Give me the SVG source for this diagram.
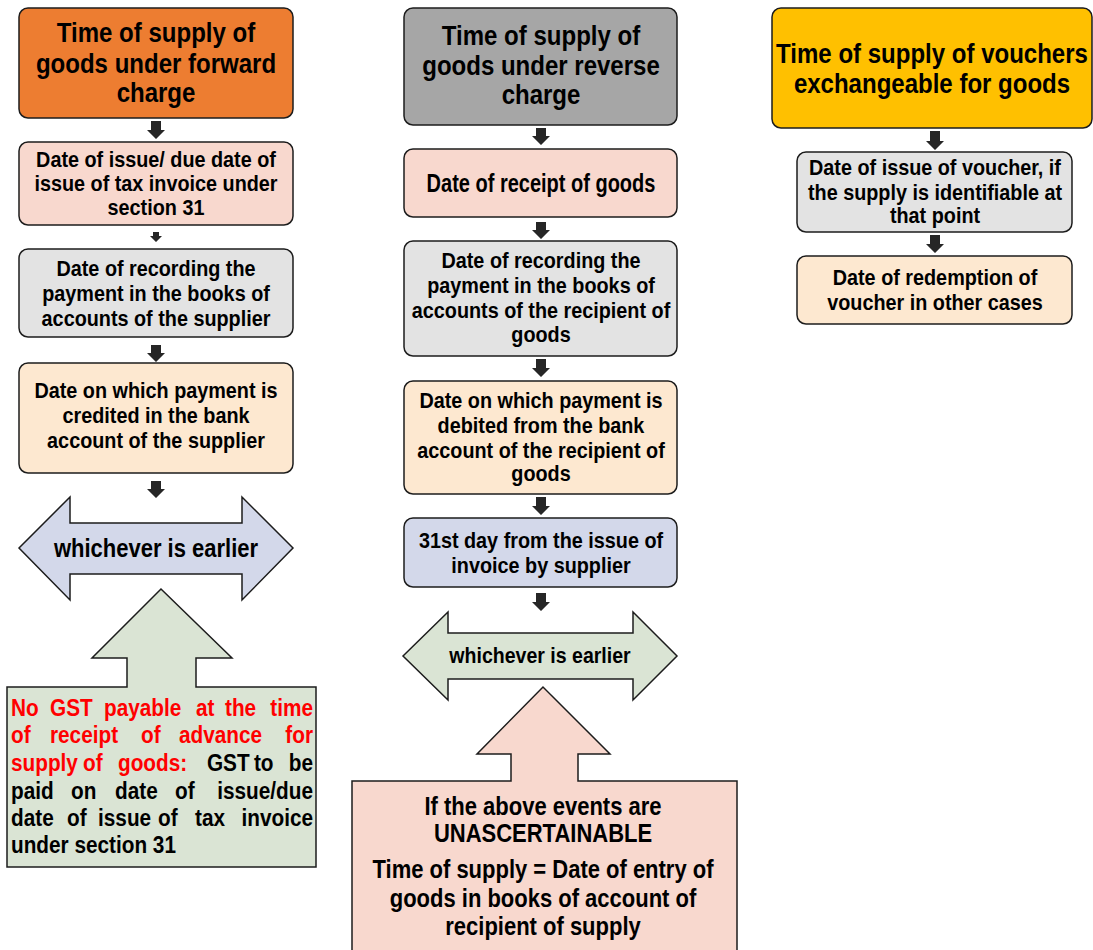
<svg xmlns="http://www.w3.org/2000/svg" width="1093" height="950" viewBox="0 0 1093 950">
<style>
text{font-family:"Liberation Sans",Arial,sans-serif;font-weight:bold;fill:#000;}
.h{font-size:27.3px;text-anchor:middle;}
.b{font-size:22.5px;text-anchor:middle;}
.w{font-size:25px;text-anchor:middle;}
.j{font-size:23.6px;}
.e{text-anchor:end;}
.r{fill:#FF0000;}
.box{stroke:#1c1c1c;stroke-width:1.5;}
.arr{fill:#262626;}
.orange{fill:#ED7D31;}
.greyh{fill:#A6A6A6;}
.yellow{fill:#FFC000;}
.pink{fill:#F8D8CE;}
.grey{fill:#E3E3E3;}
.peach{fill:#FDE8D0;}
.blue{fill:#D3D8EA;}
.green{fill:#DAE4D4;}
</style>
<rect width="1093" height="950" fill="#FFFFFF"/>

<g id="connectors">
  <polygon class="arr" points="151,121 161,121 161,130 165,130 156,139 147,130 151,130"/>
  <polygon class="arr" points="153,232 159,232 159,236 162,236 156,242 150,236 153,236"/>
  <polygon class="arr" points="151,345 161,345 161,353 165,353 156,362 147,353 151,353"/>
  <polygon class="arr" points="151,481 161,481 161,489 165,489 156,498 147,489 151,489"/>

  <polygon class="arr" points="536,128 546,128 546,136 550,136 541,145 532,136 536,136"/>
  <polygon class="arr" points="536,222 546,222 546,230 550,230 541,239 532,230 536,230"/>
  <polygon class="arr" points="536,359 546,359 546,368 550,368 541,377 532,368 536,368"/>
  <polygon class="arr" points="536,497 546,497 546,506 550,506 541,515 532,506 536,506"/>
  <polygon class="arr" points="536,593 546,593 546,602 550,602 541,611 532,602 536,602"/>

  <polygon class="arr" points="930,131 940,131 940,141 944,141 935,150 926,141 930,141"/>
  <polygon class="arr" points="930,235 940,235 940,244 944,244 935,253 926,244 930,244"/>
</g>

<!-- Left column -->
<g id="fwd-header">
  <rect class="box orange" x="19" y="8" width="274" height="110" rx="9"/>
  <text class="h" transform="translate(156 0) scale(.88 1)" y="42">Time of supply of</text>
  <text class="h" transform="translate(156 0) scale(.88 1)" y="73">goods under forward</text>
  <text class="h" transform="translate(156 0) scale(.88 1)" y="102">charge</text>
</g>
<g id="fwd-invoice">
  <rect class="box pink" x="19" y="142" width="274" height="83" rx="9"/>
  <text class="b" transform="translate(156 0) scale(.88 1)" y="167">Date of issue/ due date of</text>
  <text class="b" transform="translate(156 0) scale(.88 1)" y="191">issue of tax invoice under</text>
  <text class="b" transform="translate(156 0) scale(.88 1)" y="215">section 31</text>
</g>
<g id="fwd-recording">
  <rect class="box grey" x="19" y="249" width="274" height="88" rx="9"/>
  <text class="b" transform="translate(156 0) scale(.88 1)" y="276">Date of recording the</text>
  <text class="b" transform="translate(156 0) scale(.88 1)" y="301">payment in the books of</text>
  <text class="b" transform="translate(156 0) scale(.88 1)" y="326">accounts of the supplier</text>
</g>
<g id="fwd-credited">
  <rect class="box peach" x="19" y="363" width="274" height="110" rx="9"/>
  <text class="b" transform="translate(156 0) scale(.88 1)" y="398">Date on which payment is</text>
  <text class="b" transform="translate(156 0) scale(.88 1)" y="423">credited in the bank</text>
  <text class="b" transform="translate(156 0) scale(.88 1)" y="448">account of the supplier</text>
</g>
<g id="fwd-earlier">
  <polygon class="box blue" points="19,548 70,497 70,523 242,523 242,497 293,548 242,600 242,574 70,574 70,600"/>
  <text class="w" transform="translate(156 0) scale(.88 1)" y="557">whichever is earlier</text>
</g>
<g id="fwd-advance">
  <path class="box green" d="M7,687 L127,687 L127,658 L92,658 L161,589 L232,658 L196,658 L196,687 L316,687 L316,867 L7,867 Z"/>
  <g transform="scale(.88 1)">
  <text class="j r"><tspan x="12.5" y="716">No</tspan><tspan x="56.8" y="716">GST</tspan><tspan x="118.2" y="716">payable</tspan><tspan x="222.7" y="716">at</tspan><tspan x="255.7" y="716">the</tspan></text>
  <text class="j r e" x="355.7" y="716">time</text>
  <text class="j r"><tspan x="12.5" y="743">of</tspan><tspan x="56.8" y="743">receipt</tspan><tspan x="160.2" y="743">of</tspan><tspan x="203.4" y="743">advance</tspan></text>
  <text class="j r e" x="355.7" y="743">for</text>
  <text class="j"><tspan class="r" x="12.5" y="771">supply</tspan><tspan class="r" x="94.3" y="771">of</tspan><tspan class="r" x="134.1" y="771">goods:</tspan><tspan x="235.2" y="771">GST</tspan><tspan x="288.6" y="771">to</tspan></text>
  <text class="j e" x="355.7" y="771">be</text>
  <text class="j"><tspan x="12.5" y="799">paid</tspan><tspan x="80.7" y="799">on</tspan><tspan x="130.7" y="799">date</tspan><tspan x="198.9" y="799">of</tspan></text>
  <text class="j e" x="355.7" y="799">issue/due</text>
  <text class="j"><tspan x="12.5" y="826">date</tspan><tspan x="76.1" y="826">of</tspan><tspan x="111.4" y="826">issue</tspan><tspan x="179.5" y="826">of</tspan><tspan x="221.6" y="826">tax</tspan></text>
  <text class="j e" x="355.7" y="826">invoice</text>
  <text class="j" x="12.5" y="853">under section 31</text>
  </g>
</g>

<!-- Middle column -->
<g id="rev-header">
  <rect class="box greyh" x="404" y="8" width="273" height="117" rx="9"/>
  <text class="h" transform="translate(541 0) scale(.88 1)" y="45">Time of supply of</text>
  <text class="h" transform="translate(541 0) scale(.88 1)" y="75">goods under reverse</text>
  <text class="h" transform="translate(541 0) scale(.88 1)" y="104">charge</text>
</g>
<g id="rev-receipt">
  <rect class="box pink" x="404" y="149" width="273" height="68" rx="9"/>
  <text style="font-size:25px;text-anchor:middle;" transform="translate(541 0) scale(.8 1)" y="192">Date of receipt of goods</text>
</g>
<g id="rev-recording">
  <rect class="box grey" x="404" y="241" width="273" height="115" rx="9"/>
  <text class="b" transform="translate(541 0) scale(.88 1)" y="268">Date of recording the</text>
  <text class="b" transform="translate(541 0) scale(.88 1)" y="293">payment in the books of</text>
  <text class="b" transform="translate(541 0) scale(.88 1)" y="318">accounts of the recipient of</text>
  <text class="b" transform="translate(541 0) scale(.88 1)" y="342">goods</text>
</g>
<g id="rev-debited">
  <rect class="box peach" x="404" y="381" width="273" height="113" rx="9"/>
  <text class="b" transform="translate(541 0) scale(.88 1)" y="408">Date on which payment is</text>
  <text class="b" transform="translate(541 0) scale(.88 1)" y="433">debited from the bank</text>
  <text class="b" transform="translate(541 0) scale(.88 1)" y="458">account of the recipient of</text>
  <text class="b" transform="translate(541 0) scale(.88 1)" y="481">goods</text>
</g>
<g id="rev-31st">
  <rect class="box blue" x="404" y="518" width="273" height="69" rx="9"/>
  <text class="b" transform="translate(541 0) scale(.88 1)" y="548">31st day from the issue of</text>
  <text class="b" transform="translate(541 0) scale(.88 1)" y="573">invoice by supplier</text>
</g>
<g id="rev-earlier">
  <polygon class="box green" points="403,656 448,612 448,633 633,633 633,612 677,656 633,700 633,679 448,679 448,700"/>
  <text style="font-size:22.2px;text-anchor:middle;" transform="translate(540 0) scale(.88 1)" y="663">whichever is earlier</text>
</g>
<g id="rev-unascertainable">
  <path class="box pink" d="M352,781 L511,781 L511,754 L477,754 L543,687 L610,754 L578,754 L578,781 L737,781 L737,956 L352,956 Z"/>
  <text class="w" transform="translate(543 0) scale(.88 1)" y="815">If the above events are</text>
  <text class="w" transform="translate(543 0) scale(.88 1)" y="842">UNASCERTAINABLE</text>
  <text class="w" transform="translate(543 0) scale(.88 1)" y="878">Time of supply = Date of entry of</text>
  <text class="w" transform="translate(543 0) scale(.88 1)" y="907">goods in books of account of</text>
  <text class="w" transform="translate(543 0) scale(.88 1)" y="935">recipient of supply</text>
</g>

<!-- Right column -->
<g id="voucher-header">
  <rect class="box yellow" x="772" y="8" width="320" height="120" rx="9"/>
  <text class="h" transform="translate(932 0) scale(.88 1)" y="63">Time of supply of vouchers</text>
  <text class="h" transform="translate(932 0) scale(.88 1)" y="93">exchangeable for goods</text>
</g>
<g id="voucher-issue">
  <rect class="box grey" x="797" y="152" width="275" height="80" rx="9"/>
  <text class="b" transform="translate(935 0) scale(.88 1)" y="175">Date of issue of voucher, if</text>
  <text class="b" transform="translate(935 0) scale(.88 1)" y="200">the supply is identifiable at</text>
  <text class="b" transform="translate(935 0) scale(.88 1)" y="223">that point</text>
</g>
<g id="voucher-redemption">
  <rect class="box peach" x="797" y="256" width="275" height="68" rx="9"/>
  <text class="b" transform="translate(935 0) scale(.88 1)" y="285">Date of redemption of</text>
  <text class="b" transform="translate(935 0) scale(.88 1)" y="310">voucher in other cases</text>
</g>
</svg>
